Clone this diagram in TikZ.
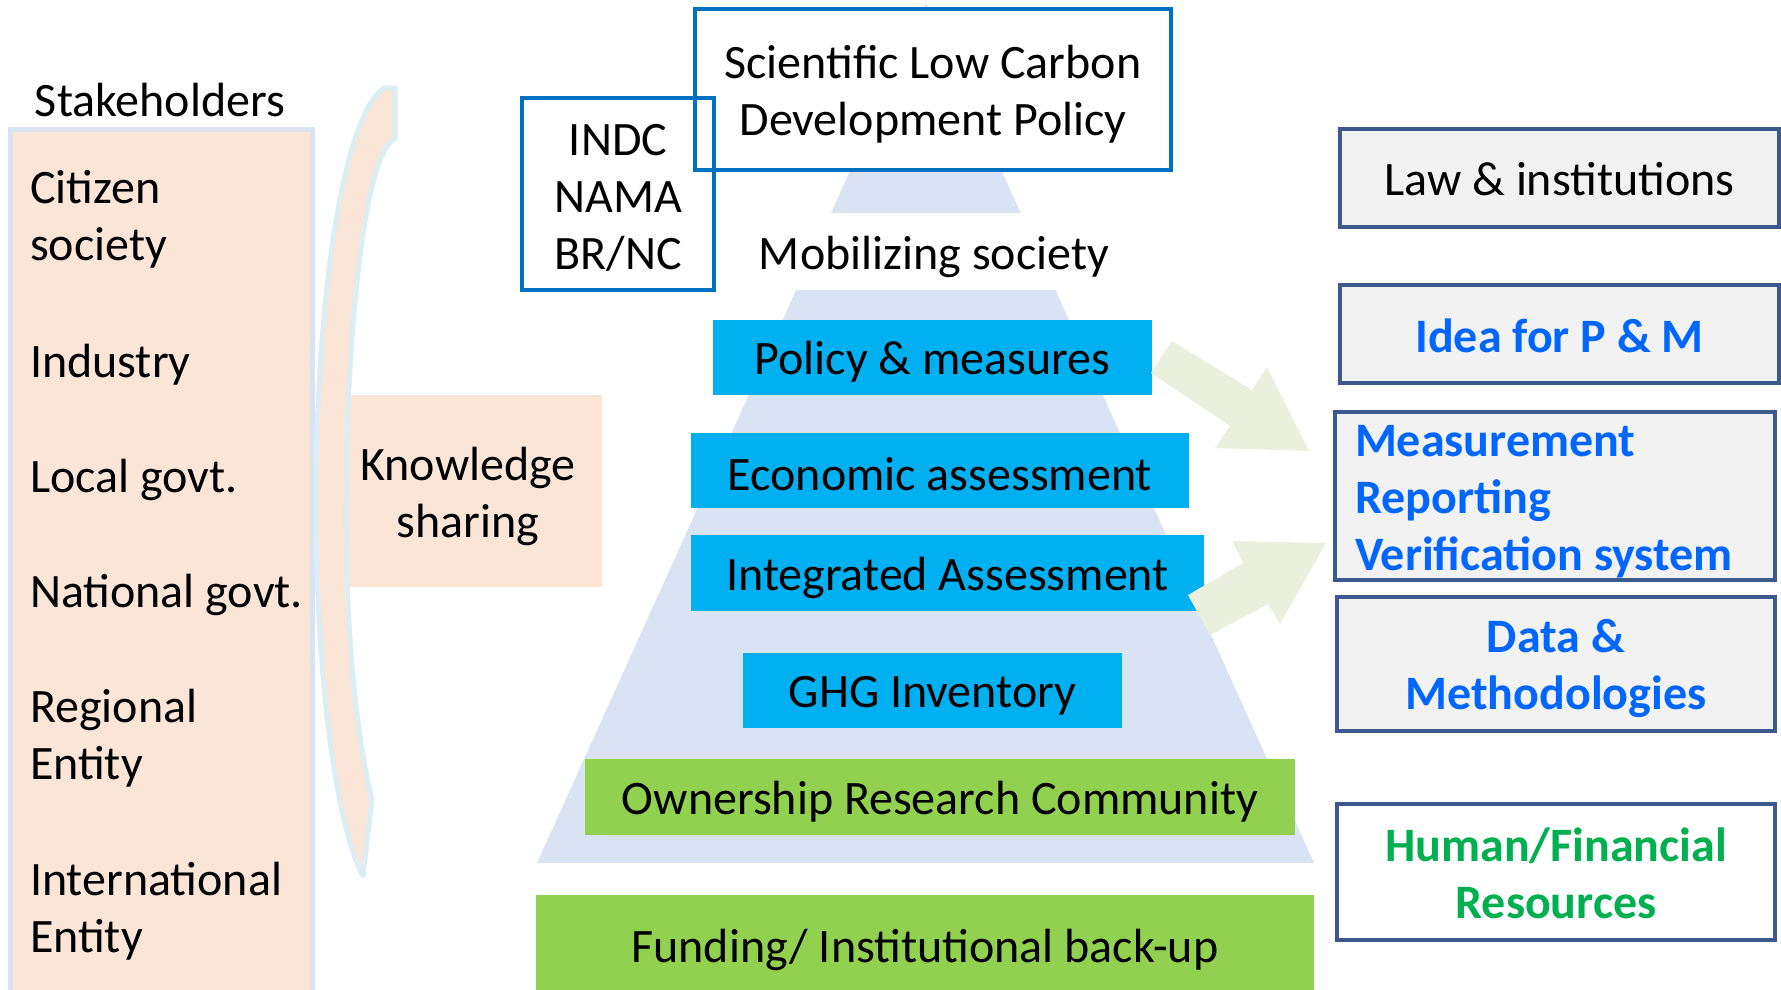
\documentclass[tikz,border=0pt]{standalone}
\usepackage{fontspec}
\setmainfont{Carlito}
\definecolor{pyr}{RGB}{218,227,243}
\definecolor{peach}{RGB}{251,229,214}
\definecolor{bracecol}{RGB}{218,238,243}
\definecolor{cyanbox}{RGB}{0,176,240}
\definecolor{greenbox}{RGB}{146,208,80}
\definecolor{arrowfill}{RGB}{235,240,222}
\definecolor{sciblue}{RGB}{0,112,192}
\definecolor{rborder}{RGB}{59,89,140}
\definecolor{rfill}{RGB}{242,242,242}
\definecolor{rtext}{RGB}{0,102,255}
\definecolor{gtext}{RGB}{0,176,80}
\tikzset{
  base/.style={inner sep=0pt, outer sep=0pt, align=center},
  txt/.style={base},
  bluebox/.style={base, fill=cyanbox},
  grnbox/.style={base, fill=greenbox},
  rbox/.style={base, fill=rfill, draw=rborder, line width=4pt},
  scibox/.style={base, draw=sciblue, line width=4pt},
  item/.style={inner sep=0pt, outer sep=0pt, anchor=west, align=left},
  blockarrow/.style={fill=arrowfill},
  boldtxt/.style={font=\fontsize{48}{57}\selectfont\bfseries}
}
\begin{document}
\begin{tikzpicture}[x=1pt,y=-1pt,font=\fontsize{48}{57}\selectfont]
\useasboundingbox (0,0) rectangle (1781,989);
% stakeholders
\node[base] (stk) at (160,100) {Stakeholders};
\node[base, fill=peach, draw=pyr, line width=5pt, minimum width=302pt, minimum height=881pt] (left) at (161.5,570) {};
\node[item] (cit) at (30,219.5) {Citizen\\society};
\node[item] (ind) at (30,364.5) {Industry};
\node[item] (loc) at (30,479.5) {Local govt.};
\node[item] (nat) at (30,595) {National govt.};
\node[item] (reg) at (30,738) {Regional\\Entity};
\node[item] (int) at (30,911) {International\\Entity};
% knowledge sharing
\node[base, fill=peach, minimum width=256pt, minimum height=192pt] (know) at (474,491) {};
\node[txt] (knowt) at (468,496) {Knowledge\\sharing};
% brace
\path[fill=peach, draw=bracecol, line width=5pt, line join=round]
  (384,88) -- (395,88) -- (395,139)
  .. controls (366,150) and (347,320) .. (346,500)
  .. controls (345,660) and (362,760) .. (372,800)
  -- (363,876)
  .. controls (338,830) and (316,690) .. (316,500)
  .. controls (316,300) and (343,115) .. (384,88) -- cycle;
% pyramid
\fill[pyr] (926,3) -- (1314,863) -- (537,863) -- cycle;
\node[scibox, fill=white, minimum width=476pt, minimum height=161pt] (sci) at (933,89.5) {};
\node[txt] (scit) at ([yshift=-4.5pt]sci.center) {Scientific Low Carbon\\Development Policy};
\node[scibox, minimum width=192pt, minimum height=192pt] (indc) at (618,194) {};
\node[txt] (indct) at ([yshift=-3.5pt]indc.center) {INDC\\NAMA\\BR/NC};
\node[base, fill=white, minimum width=380pt, minimum height=77pt] (mob) at (934,251.5) {};
\node[txt] (mobt) at ([yshift=-5pt]mob.center) {Mobilizing society};
% blue boxes
\node[bluebox, minimum width=439pt, minimum height=75pt] (pm) at (932.5,357.5) {};
\node[txt] (pmt) at ([yshift=-4.5pt]pm.center) {Policy \& measures};
\node[bluebox, minimum width=498pt, minimum height=75pt] (eco) at (940,470.5) {};
\node[txt] (ecot) at ([yshift=-3.5pt]eco.center) {Economic assessment};
\node[bluebox, minimum width=513pt, minimum height=76pt] (ia) at (947.5,573) {};
\node[txt] (iat) at ([yshift=-4.5pt]ia.center) {Integrated Assessment};
\node[bluebox, minimum width=379pt, minimum height=75pt] (ghg) at (932.5,690.5) {};
\node[txt] (ghgt) at ([yshift=-5pt]ghg.center) {GHG Inventory};
% green boxes
\node[grnbox, minimum width=710pt, minimum height=76pt] (own) at (940,797) {};
\node[txt] (ownt) at ([yshift=-4.5pt]own.center) {Ownership Research Community};
\node[grnbox, minimum width=778pt, minimum height=100pt] (fund) at (925,945) {};
\node[txt] (fundt) at ([yshift=-4.5pt]fund.center) {Funding/ Institutional back-up};
% block arrows
\path[blockarrow] (1172,341) -- (1252,390) -- (1267,367) -- (1309,451) -- (1215,448) -- (1230,426) -- (1151,373) -- cycle;
\path[blockarrow] (1188,595) -- (1243,563) -- (1232,541) -- (1326,543) -- (1280,624) -- (1268,604) -- (1210,635) -- cycle;
% right boxes
\node[rbox, minimum width=439pt, minimum height=98pt] (law) at (1559.5,178) {};
\node[txt] (lawt) at ([yshift=-1.5pt]law.center) {Law \& institutions};
\node[rbox, minimum width=439pt, minimum height=98pt] (idea) at (1559.5,334) {};
\node[txt, boldtxt, text=rtext] (ideat) at ([yshift=-1.5pt]idea.center) {Idea for P \& M};
\node[rbox, minimum width=440pt, minimum height=168pt] (mrv) at (1555,496) {};
\node[item, boldtxt, text=rtext] (mrvt) at (1355,501.5) {Measurement\\Reporting\\Verification system};
\node[rbox, minimum width=438pt, minimum height=134pt] (data) at (1556,664) {};
\node[txt, boldtxt, text=rtext] (datat) at ([yshift=-4.5pt]data.center) {Data \&\\Methodologies};
\node[rbox, fill=white, minimum width=438pt, minimum height=136pt] (hum) at (1556,872) {};
\node[txt, boldtxt, text=gtext] (humt) at ([yshift=-1.5pt]hum.center) {Human/Financial\\Resources};
\end{tikzpicture}
\end{document}
